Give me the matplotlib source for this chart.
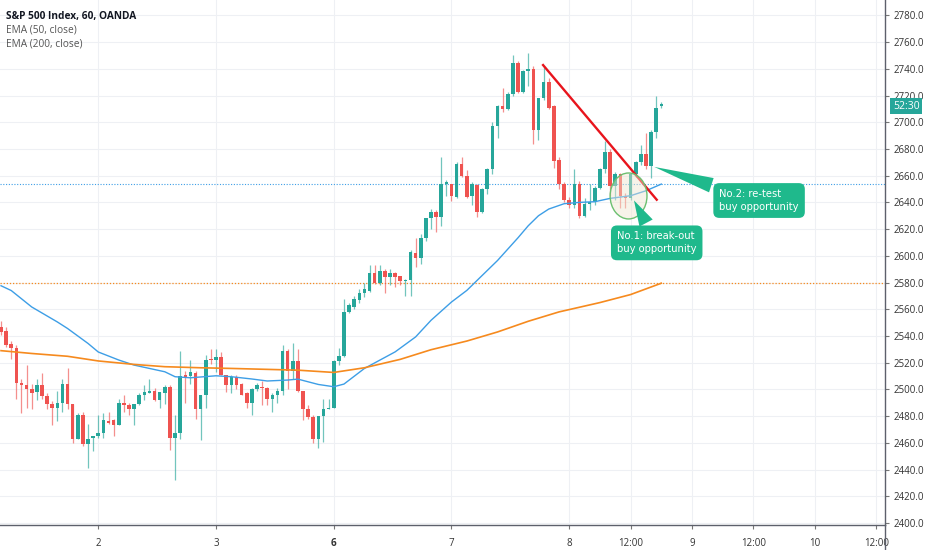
import numpy as np
import matplotlib
matplotlib.use("Agg")
import matplotlib.pyplot as plt
from matplotlib.patches import Ellipse
from matplotlib.lines import Line2D
from matplotlib.transforms import blended_transform_factory

plt.rcParams['font.family'] = ['Open Sans', 'DejaVu Sans']

# ------------------------------------------------------------------
# hourly candles, S&P 500 (OANDA)
# ------------------------------------------------------------------
opens = [2547, 2544, 2534, 2531, 2505, 2503, 2500, 2498, 2503, 2495,
         2489, 2486, 2490, 2504, 2489, 2463, 2481, 2459, 2464, 2465,
         2467, 2476, 2477, 2473, 2490, 2488, 2485, 2489, 2496, 2497,
         2499, 2492, 2497, 2502, 2464, 2467, 2511, 2510, 2512, 2485,
         2496, 2523, 2522, 2524, 2511, 2503, 2509, 2504, 2497, 2490,
         2500, 2502, 2501, 2493, 2496, 2499, 2529, 2514, 2521, 2499,
         2485, 2479, 2463, 2480, 2485, 2486, 2521, 2525, 2558, 2562,
         2567, 2572, 2574, 2587, 2580, 2589, 2584, 2587, 2585, 2581,
         2582, 2602, 2598, 2613, 2628, 2633, 2629, 2654, 2654, 2644,
         2669, 2660, 2645, 2653, 2633, 2650, 2665, 2697, 2712, 2710,
         2721, 2744, 2723, 2738, 2740, 2694, 2718, 2730, 2712, 2672,
         2654, 2642, 2638, 2654, 2630, 2639, 2640, 2651, 2665, 2678,
         2652, 2661, 2645, 2643, 2661, 2670, 2676, 2667, 2693, 2712]
highs = [2551, 2547, 2536, 2533, 2508, 2518, 2504, 2508, 2512, 2497,
         2491, 2499, 2508, 2516, 2489, 2482, 2483, 2474, 2465, 2481,
         2482, 2483, 2478, 2493, 2496, 2490, 2489, 2497, 2503, 2508,
         2501, 2498, 2503, 2503, 2481, 2529, 2514, 2522, 2514, 2496,
         2526, 2530, 2530, 2528, 2511, 2511, 2511, 2505, 2498, 2501,
         2505, 2506, 2502, 2497, 2501, 2533, 2530, 2535, 2530, 2499,
         2488, 2481, 2480, 2493, 2493, 2522, 2531, 2568, 2565, 2570,
         2575, 2580, 2593, 2593, 2593, 2590, 2590, 2588, 2585, 2583,
         2604, 2613, 2616, 2628, 2635, 2634, 2674, 2657, 2654, 2670,
         2674, 2664, 2655, 2654, 2651, 2666, 2700, 2713, 2726, 2723,
         2750, 2746, 2739, 2752, 2742, 2718, 2742, 2733, 2713, 2674,
         2655, 2644, 2665, 2656, 2643, 2654, 2652, 2666, 2686, 2680,
         2663, 2662, 2647, 2662, 2671, 2683, 2692, 2694, 2720, 2715]
lows = [2541, 2532, 2523, 2493, 2482, 2486, 2485, 2492, 2493, 2485,
        2473, 2476, 2483, 2485, 2460, 2463, 2458, 2441, 2454, 2464,
        2464, 2474, 2465, 2473, 2483, 2481, 2473, 2488, 2492, 2497,
        2491, 2486, 2489, 2455, 2432, 2463, 2490, 2504, 2478, 2462,
        2486, 2519, 2513, 2511, 2498, 2497, 2500, 2496, 2486, 2481,
        2499, 2488, 2488, 2483, 2490, 2496, 2500, 2508, 2498, 2477,
        2478, 2460, 2456, 2461, 2485, 2486, 2518, 2524, 2557, 2560,
        2565, 2569, 2573, 2579, 2578, 2572, 2578, 2577, 2578, 2570,
        2570, 2592, 2594, 2611, 2620, 2618, 2622, 2645, 2641, 2643,
        2659, 2643, 2638, 2629, 2632, 2646, 2661, 2688, 2708, 2709,
        2720, 2722, 2722, 2727, 2684, 2687, 2717, 2710, 2666, 2650,
        2640, 2636, 2636, 2628, 2629, 2634, 2638, 2650, 2662, 2645,
        2642, 2636, 2636, 2642, 2659, 2668, 2665, 2658, 2688, 2711]
closes = [2543, 2533, 2531, 2505, 2503, 2500, 2497, 2503, 2495, 2489,
          2486, 2490, 2504, 2489, 2463, 2481, 2459, 2463, 2465, 2467,
          2477, 2475, 2473, 2490, 2488, 2485, 2489, 2496, 2498, 2499,
          2492, 2498, 2502, 2464, 2467, 2510, 2509, 2513, 2485, 2496,
          2522, 2522, 2524, 2511, 2503, 2509, 2503, 2496, 2490, 2500,
          2503, 2501, 2493, 2496, 2499, 2529, 2514, 2521, 2499, 2485,
          2479, 2463, 2480, 2485, 2486, 2521, 2525, 2558, 2563, 2568,
          2572, 2575, 2587, 2580, 2589, 2584, 2587, 2584, 2581, 2582,
          2603, 2598, 2613, 2628, 2633, 2629, 2654, 2655, 2645, 2669,
          2660, 2644, 2654, 2633, 2650, 2665, 2697, 2712, 2710, 2721,
          2744, 2723, 2738, 2740, 2694, 2718, 2730, 2711, 2671, 2654,
          2642, 2638, 2654, 2630, 2639, 2640, 2651, 2665, 2678, 2652,
          2661, 2645, 2643, 2661, 2670, 2676, 2667, 2693, 2711, 2714]

# EMA curves, sampled at bar positions
ema50_bars = [0, 2, 6, 11, 13, 17, 19, 23, 26, 29, 32, 34, 37, 42, 45, 49, 52, 56, 58, 62,
              65, 67, 71, 77, 81, 84, 88, 91, 94, 97, 99, 101, 103, 105, 107, 110, 113, 116,
              119, 123, 126, 129]
ema50_vals = [2577.6, 2574.0, 2561.7, 2550.5, 2545.6, 2534.4, 2528.0, 2522.0, 2518.2, 2515.7,
              2513.2, 2509.5, 2508.7, 2510.2, 2509.5, 2507.8, 2506.3, 2507.0, 2507.7, 2503.7,
              2502.0, 2504.0, 2515.7, 2528.1, 2539.3, 2551.7, 2565.4, 2574.1, 2585.3, 2596.5,
              2605.0, 2613.5, 2622.5, 2630.0, 2635.0, 2639.0, 2640.0, 2640.5, 2643.0, 2645.0,
              2648.7, 2653.7]
ema200_bars = [0, 6, 13, 19, 26, 32, 39, 45, 52, 58, 65, 71, 78, 84, 91, 97, 103, 109, 117, 123, 129]
ema200_vals = [2529.0, 2526.9, 2524.8, 2521.3, 2518.7, 2517.0, 2516.2, 2515.7, 2515.0, 2514.4,
               2512.7, 2516.2, 2522.5, 2529.7, 2536.2, 2543.0, 2551.0, 2558.0, 2565.0, 2571.0, 2579.5]

# x axis labels (bar positions)
tick_bars = [19, 42, 65, 88, 111, 123, 135, 147, 159, 171]
tick_labels = ["2", "3", "6", "7", "8", "12:00", "9", "12:00", "10", "12:00"]

# trend line drawn on the chart
trend_bars = [105.9, 128.1]
trend_vals = [2742.8, 2642.0]

UP, DOWN = "#26a69a", "#ef5350"

fig = plt.figure(figsize=(9.32, 5.5), dpi=100)
ax = fig.add_axes([0, 25 / 550, 885 / 932, 525 / 550])

x = np.arange(len(opens))
o = np.array(opens); c = np.array(closes)
colors = [UP if cc >= oo else DOWN for oo, cc in zip(o, c)]

ax.vlines(x, lows, highs, colors=colors, lw=0.9, alpha=0.65, zorder=3)
body_lo = np.minimum(o, c)
body_h = np.maximum(np.abs(c - o), 0.6)
ax.bar(x, body_h, bottom=body_lo, width=0.7, color=colors, lw=0, zorder=4)

ax.plot(ema50_bars, ema50_vals, color="#3d9ee6", lw=1.0, zorder=5)
ax.plot(ema200_bars, ema200_vals, color="#f68a1e", lw=1.2, zorder=5)
ax.axhline(ema50_vals[-1], color="#3d9ee6", lw=0.8, ls=(0, (1, 1.5)), zorder=2)
ax.axhline(ema200_vals[-1], color="#f68a1e", lw=0.9, ls=(0, (1, 1.5)), zorder=2)

ax.plot(trend_bars, trend_vals, color="#e8141c", lw=1.7, zorder=6)

# circle around the break-out
ax.add_patch(Ellipse((122.6, 2644.8), 7.2, 34.4, facecolor="#efe6cf", alpha=0.45,
                     edgecolor="none", zorder=6))
ax.add_patch(Ellipse((122.6, 2644.8), 7.2, 34.4, facecolor="none",
                     edgecolor="#6cc070", lw=1.0, zorder=6))

GREEN = "#1fb98c"
box = dict(boxstyle="round,pad=0.6,rounding_size=0.6", fc=GREEN, ec="none")
arrow = dict(arrowstyle="wedge,tail_width=1.5,shrink_factor=0.5", fc=GREEN, ec="none")
ax.annotate("No.1: break-out\nbuy opportunity", xy=(123.4, 2643.3), xytext=(128.1, 2609.7),
            ha="center", va="center", multialignment="left", color="white", fontsize=7.2,
            linespacing=1.35, bbox=box, arrowprops=arrow, zorder=7,
            family=["DejaVu Sans"])
ax.annotate("No.2: re-test\nbuy opportunity", xy=(127.1, 2667.2), xytext=(148.1, 2641.4),
            ha="center", va="center", multialignment="left", color="white", fontsize=7.2,
            linespacing=1.35, bbox=box, arrowprops=arrow, zorder=7,
            family=["DejaVu Sans"])

ax.set_xlim(-0.2, 172.7)
ax.set_ylim(2398.5, 2791.5)

ax.yaxis.tick_right()
yt = np.arange(2400, 2781, 20)
ax.set_yticks(yt)
ax.set_yticklabels([f"{v:.1f}" for v in yt])
ax.set_xticks(tick_bars)
ax.set_xticklabels(tick_labels)
for lab in ax.get_xticklabels():
    if lab.get_text() == "6":
        lab.set_fontweight("bold")
ax.tick_params(axis="y", length=3, color="#777", labelsize=7, pad=3.5, labelcolor="#333")
ax.tick_params(axis="x", length=3, color="#777", labelsize=7, pad=6, labelcolor="#333")
ax.grid(True, color="#eef0f4", lw=0.8, zorder=0)
ax.set_axisbelow(True)
for s in ["left", "top"]:
    ax.spines[s].set_visible(False)
for s in ["right", "bottom"]:
    ax.spines[s].set_color("#5d606b")
    ax.spines[s].set_linewidth(1.0)
fig.add_artist(Line2D([885 / 932, 885 / 932], [0, 25 / 550], color="#5d606b", lw=1.0))

# countdown label on price axis
tr = blended_transform_factory(ax.transAxes, ax.transData)
ax.text(1.009, closes[-1] - 2, "52:30", transform=tr, ha="left", va="center", color="white",
        fontsize=7.5, bbox=dict(boxstyle="square,pad=0.25", fc=UP, ec="none"),
        clip_on=False, zorder=10)

fig.text(6 / 932, 1 - 16 / 550, "S&P 500 Index, 60, OANDA", fontsize=7.3, fontweight="bold",
         color="#131722", va="center")
fig.text(6 / 932, 1 - 30 / 550, "EMA (50, close)", fontsize=7.3, color="#555", va="center")
fig.text(6 / 932, 1 - 44 / 550, "EMA (200, close)", fontsize=7.3, color="#555", va="center")

fig.savefig("out.png", dpi=100)
